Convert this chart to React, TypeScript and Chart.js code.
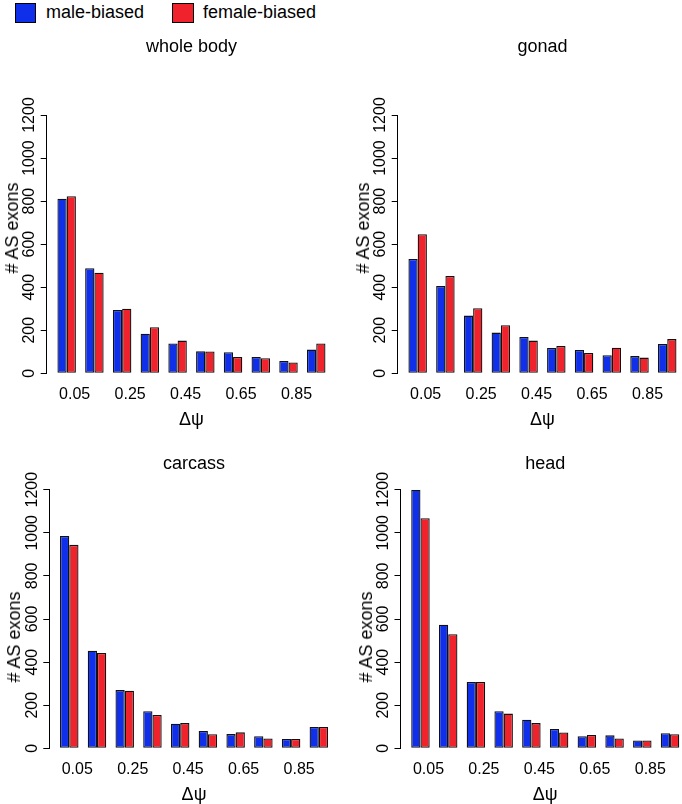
import React, { useEffect, useRef } from 'react';
import { Chart, registerables } from 'chart.js';

Chart.register(...registerables);

// ---------- data ----------
const binCenters = [0.05, 0.15, 0.25, 0.35, 0.45, 0.55, 0.65, 0.75, 0.85, 0.95];
const xTickValues = [0.05, 0.25, 0.45, 0.65, 0.85];
const xTickLabels = ['0.05', '0.25', '0.45', '0.65', '0.85'];
const yTickValues = [0, 200, 400, 600, 800, 1000, 1200];
const seriesNames = ['male-biased', 'female-biased'];
const panelTitles = ['whole body', 'gonad', 'carcass', 'head'];
const xAxisTitle = 'Δψ';
const yAxisTitle = '# AS exons';

const wholeBodyMale = [811, 488, 294, 184, 139, 102, 98, 76, 57, 110];
const wholeBodyFemale = [823, 467, 300, 214, 152, 101, 76, 70, 50, 139];
const gonadMale = [531, 406, 268, 189, 169, 118, 108, 84, 80, 136];
const gonadFemale = [646, 452, 302, 223, 152, 127, 94, 119, 73, 159];
const carcassMale = [985, 453, 270, 172, 114, 80, 66, 56, 43, 99];
const carcassFemale = [944, 442, 267, 155, 117, 65, 74, 46, 43, 99];
const headMale = [1200, 573, 308, 172, 133, 90, 56, 60, 36, 70];
const headFemale = [1068, 529, 308, 161, 117, 73, 62, 46, 36, 65];

// ---------- style ----------
const FONT = '"Liberation Sans", Arial, Helvetica, sans-serif';
const BLUE = '#0F2FEA';
const RED = '#F0222B';
const INK = '#000000';
const BAR_EDGE = '#111111';

type Geom = {
  left: number; top: number; width: number; height: number;
  axisX: number; padTop: number; titleGap: number; padBottom: number;
  yTitleY: number;
};

const PLOT_W = 289.5;
const X_AXIS_H = 57.2;
const X_MIN = -0.022;
const X_MAX = 1.022;

const topRow = { top: 20, height: 420, padTop: 16.1, titleGap: 57.3, padBottom: 9.5, yTitleY: 228.3 };
const bottomRow = { top: 440, height: 370, padTop: 13.0, titleGap: 15.1, padBottom: 4.5, yTitleY: 636.7 };

const geoms: Geom[] = [
  { left: 0, width: 345, axisX: 46.7, ...topRow },
  { left: 341, width: 350, axisX: 397.7, ...topRow },
  { left: 0, width: 345, axisX: 49.3, ...bottomRow },
  { left: 341, width: 352, axisX: 400.5, ...bottomRow },
];

function Panel({ title, male, female, g }: { title: string; male: number[]; female: number[]; g: Geom }) {
  const ref = useRef<HTMLCanvasElement | null>(null);
  useEffect(() => {
    if (!ref.current) return;
    const yW = g.axisX - g.left;
    const padRight = g.width - yW - PLOT_W;
    const chart = new Chart(ref.current, {
      type: 'bar',
      data: {
        datasets: [
          {
            label: seriesNames[0],
            data: binCenters.map((x, i) => ({ x, y: male[i] })),
            backgroundColor: BLUE,
            borderColor: BAR_EDGE,
            borderWidth: 1.3,
            borderSkipped: false,
          },
          {
            label: seriesNames[1],
            data: binCenters.map((x, i) => ({ x, y: female[i] })),
            backgroundColor: RED,
            borderColor: BAR_EDGE,
            borderWidth: 1.3,
            borderSkipped: false,
          },
        ],
      },
      options: {
        animation: false,
        responsive: false,
        maintainAspectRatio: false,
        devicePixelRatio: 1,
        font: { family: FONT },
        layout: { padding: { left: 0, right: padRight, top: g.padTop, bottom: g.padBottom } },
        datasets: { bar: { categoryPercentage: 2 / 3, barPercentage: 1 } },
        plugins: {
          legend: { display: false },
          tooltip: { enabled: false },
          title: {
            display: true,
            text: title,
            fullSize: false,
            color: INK,
            font: { family: FONT, size: 18, weight: 'normal', lineHeight: 1.2 },
            padding: { top: 0, bottom: g.titleGap },
          },
        },
        scales: {
          x: {
            type: 'linear',
            offset: false,
            bounds: 'data',
            min: X_MIN,
            max: X_MAX,
            grid: { display: false, offset: false },
            border: { display: false },
            afterDataLimits: (s: any) => {
              s.min = X_MIN;
              s.max = X_MAX;
            },
            afterBuildTicks: (s: any) => {
              s.ticks = xTickValues.map((v) => ({ value: v }));
              s.min = X_MIN;
              s.max = X_MAX;
            },
            afterFit: (s: any) => {
              s.height = X_AXIS_H;
            },
            ticks: {
              autoSkip: false,
              includeBounds: false,
              maxRotation: 0,
              minRotation: 0,
              padding: 3.6,
              labelOffset: 8,
              color: INK,
              font: { family: FONT, size: 16 },
              callback: (_v: any, i: number) => xTickLabels[i],
            },
            title: {
              display: true,
              text: xAxisTitle,
              color: INK,
              font: { family: FONT, size: 18, lineHeight: 1.2 },
              padding: 0,
            },
          },
          y: {
            type: 'linear',
            min: 0,
            max: 1200,
            afterBuildTicks: (s: any) => {
              s.ticks = yTickValues.map((v) => ({ value: v }));
            },
            afterFit: (s: any) => {
              s.width = yW;
            },
            grid: { display: true, drawOnChartArea: false, drawTicks: true, tickLength: 6, color: INK, lineWidth: 1 },
            border: { display: true, color: INK, width: 1 },
            ticks: {
              minRotation: 90,
              maxRotation: 90,
              crossAlign: 'center',
              padding: -7.1,
              color: INK,
              font: { family: FONT, size: 16 },
              callback: (v: any) => String(v),
            },
          },
        },
      } as any,
    });
    return () => chart.destroy();
  }, [title, male, female, g]);

  return (
    <>
      <canvas
        ref={ref}
        width={g.width}
        height={g.height}
        style={{ position: 'absolute', left: g.left, top: g.top, width: g.width, height: g.height, display: 'block' }}
      />
      <div
        style={{
          position: 'absolute',
          left: g.axisX - 35,
          top: g.yTitleY,
          transform: 'translate(-50%, -50%) rotate(-90deg)',
          whiteSpace: 'nowrap',
          fontFamily: FONT,
          fontSize: 18,
          lineHeight: 1,
          color: INK,
        }}
      >
        {yAxisTitle}
      </div>
    </>
  );
}

const panelData = [
  [wholeBodyMale, wholeBodyFemale],
  [gonadMale, gonadFemale],
  [carcassMale, carcassFemale],
  [headMale, headFemale],
];

export default function App() {
  const legendItems = [
    { name: seriesNames[0], color: BLUE, boxLeft: 15, boxW: 21, textLeft: 46 },
    { name: seriesNames[1], color: RED, boxLeft: 172, boxW: 22, textLeft: 203 },
  ];
  return (
    <div
      style={{
        position: 'absolute',
        left: 0,
        top: 0,
        width: 682,
        height: 804,
        overflow: 'hidden',
        background: '#ffffff',
      }}
    >
      {legendItems.map((it) => (
        <React.Fragment key={it.name}>
          <div
            style={{
              position: 'absolute',
              left: it.boxLeft,
              top: 3,
              width: it.boxW,
              height: 20,
              boxSizing: 'border-box',
              border: '1.5px solid #000',
              background: it.color,
            }}
          />
          <div
            style={{
              position: 'absolute',
              left: it.textLeft,
              top: -1,
              lineHeight: '26px',
              fontFamily: FONT,
              fontSize: 18,
              color: INK,
              whiteSpace: 'nowrap',
            }}
          >
            {it.name}
          </div>
        </React.Fragment>
      ))}
      {geoms.map((g, i) => (
        <Panel key={panelTitles[i]} title={panelTitles[i]} male={panelData[i][0]} female={panelData[i][1]} g={g} />
      ))}
    </div>
  );
}
